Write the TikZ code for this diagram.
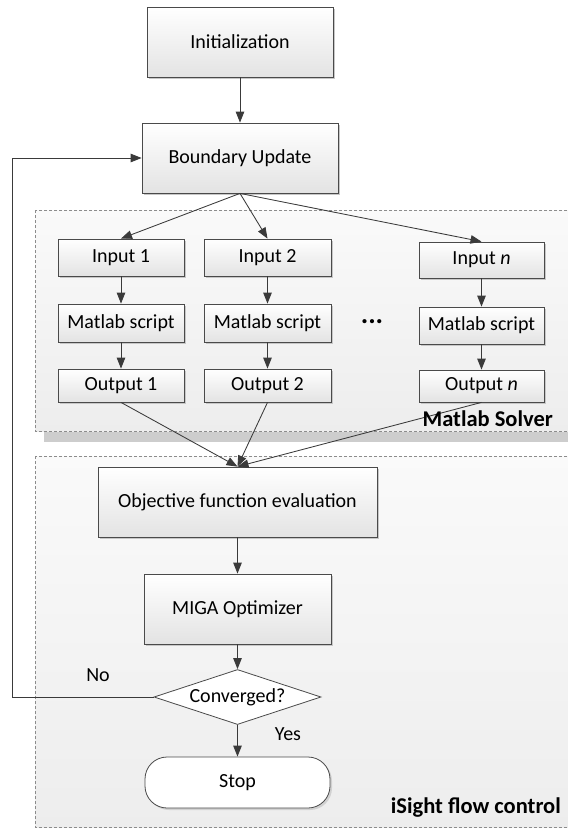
\documentclass[tikz,border=0pt]{standalone}
\usepackage{fontspec}
\setmainfont{Carlito}
\usetikzlibrary{arrows.meta,shapes.geometric,shadows}
\definecolor{linec}{HTML}{3A3A3A}
\definecolor{boxline}{HTML}{4A4A4A}
\definecolor{dashc}{HTML}{8C8C8C}
\definecolor{shadowc}{HTML}{CDCDCD}
\tikzset{
  procbox/.style={draw=boxline, line width=0.8pt, top color=white, bottom color=black!11,
    inner sep=0pt, font=\fontsize{20}{22}\selectfont,
    drop shadow={shadow xshift=2.2pt, shadow yshift=-2.2pt, fill=black!22, opacity=1}},
  decision/.style={diamond, draw=boxline, line width=0.8pt, fill=white, inner sep=0pt, aspect=3,
    font=\fontsize{20}{22}\selectfont},
  terminal/.style={draw=boxline, line width=0.8pt, fill=white, rounded corners=22pt, inner sep=0pt,
    font=\fontsize{20}{22}\selectfont,
    drop shadow={shadow xshift=2pt, shadow yshift=-2pt, fill=black!18, opacity=1}},
  conn/.style={draw=linec, line width=0.85pt, -{Triangle[length=11pt,width=8.5pt]}},
  container/.style={draw=dashc, line width=0.7pt, dash pattern=on 3pt off 2pt, top color=black!2, bottom color=black!7},
  plainlabel/.style={font=\fontsize{20}{22}\selectfont, inner sep=0pt},
  grouplabel/.style={font=\fontsize{22.5}{26}\bfseries, inner sep=0pt}
}
\begin{document}
\begin{tikzpicture}[x=1pt, y=-1pt]
\useasboundingbox (0,0) rectangle (568,831);
\clip (0,0) rectangle (568,831);
\fill[white] (0,0) rectangle (568,831);

% containers
\fill[shadowc] (44,221) rectangle (585,442);
\path[container] (35,210) rectangle (585,431);
\path[container] (35,456) rectangle (585,827);

% top
\node[procbox, minimum width=186pt, minimum height=70pt] (init) at (240,42) {Initialization};
\node[procbox, minimum width=196pt, minimum height=70pt] (bu) at (240,158) {Boundary Update};

% matlab solver columns
\node[procbox, minimum width=126pt, minimum height=37pt] (in1) at (121,257.5) {Input 1};
\node[procbox, minimum width=127pt, minimum height=37pt] (in2) at (267.5,257.5) {Input 2};
\node[procbox, minimum width=125pt, minimum height=36pt] (inn) at (481.5,260) {Input \textit{n}};

\node[procbox, minimum width=126pt, minimum height=38pt] (ms1) at (121,323) {Matlab script};
\node[procbox, minimum width=127pt, minimum height=38pt] (ms2) at (267.5,323) {Matlab script};
\node[procbox, minimum width=125pt, minimum height=37pt] (msn) at (481.5,325.5) {Matlab script};

\node[procbox, minimum width=126pt, minimum height=33pt] (out1) at (121,385.5) {Output 1};
\node[procbox, minimum width=127pt, minimum height=33pt] (out2) at (267.5,385.5) {Output 2};
\node[procbox, minimum width=125pt, minimum height=32pt] (outn) at (481.5,386) {Output \textit{n}};

\node[plainlabel, font=\fontsize{28}{28}\bfseries] (dots) at (372,322) {...};

% isight part
\node[procbox, minimum width=279pt, minimum height=70pt] (obj) at (237.5,502) {Objective function evaluation};
\node[procbox, minimum width=187pt, minimum height=70pt] (miga) at (237.5,609) {MIGA Optimizer};
\node[decision, minimum width=167pt, minimum height=55pt] (conv) at (237.5,697) {Converged?};
\node[terminal, minimum width=185pt, minimum height=51pt] (stop) at (237.5,782.5) {Stop};

% connectors
\draw[conn] (init) -- (bu);
\draw[conn] (bu.south) -- (in1.north);
\draw[conn] (bu.south) -- (in2.north);
\draw[conn] (bu.south) -- (inn.north);
\draw[conn] (in1) -- (ms1);
\draw[conn] (in2) -- (ms2);
\draw[conn] (inn) -- (msn);
\draw[conn] (ms1) -- (out1);
\draw[conn] (ms2) -- (out2);
\draw[conn] (msn) -- (outn);
\draw[conn] (out1.south) -- (obj.north);
\draw[conn] (out2.south) -- (obj.north);
\draw[conn] (outn.south) -- (obj.north);
\draw[conn] (obj) -- (miga);
\draw[conn] (miga) -- (conv);
\draw[conn] (conv) -- (stop);
\coordinate (fb) at (12,158);
\draw[conn] (conv.west) -| (fb) -- (bu.west);

% labels
\node[plainlabel] (no) at (98,675) {No};
\node[plainlabel] (yes) at (288,734) {Yes};
\node[grouplabel, anchor=east] (mslabel) at (553,419) {Matlab Solver};
\node[grouplabel, anchor=east] (islabel) at (561,808) {iSight flow control};
\end{tikzpicture}
\end{document}
